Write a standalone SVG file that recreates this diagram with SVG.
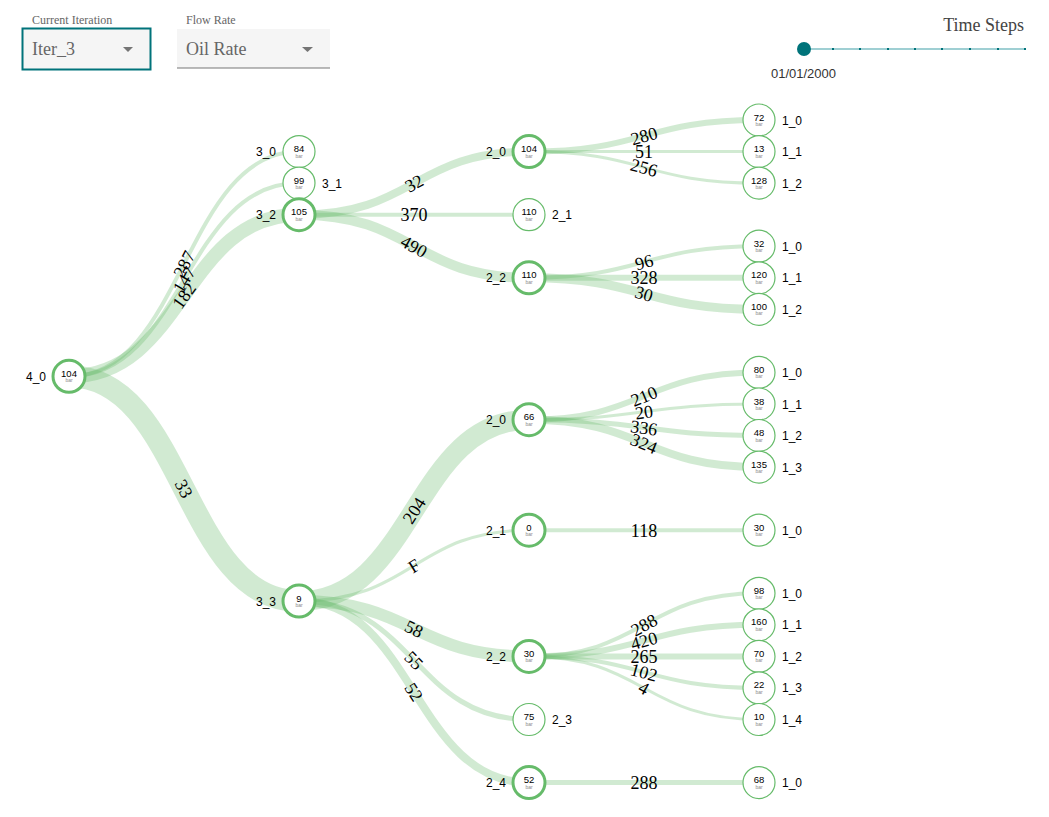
<svg xmlns="http://www.w3.org/2000/svg" width="1049" height="817" viewBox="0 0 1049 817">
<style>
.ctl-lab{font-family:"Liberation Serif",serif;font-size:12px;fill:#666}
.ctl-val{font-family:"Liberation Serif",serif;font-size:18px;fill:#666}
.link{fill:none;stroke:#66bb6a;stroke-opacity:0.3}
.llab{font-family:"Liberation Serif",serif;font-size:18px;fill:#000;text-anchor:middle}
.node circle{fill:#fff;stroke:#66bb6a;stroke-width:1.2}
.node.p circle{stroke-width:3}
.v{font-family:"Liberation Sans",Arial,sans-serif;font-size:9.5px;fill:#000;text-anchor:middle}
.u{font-family:"Liberation Sans",Arial,sans-serif;font-size:5px;fill:#888;text-anchor:middle}
.nl{font-family:"Liberation Sans",Arial,sans-serif;font-size:12px;fill:#000}
.l{text-anchor:end}
.tick{fill:#00737a}
</style>
<rect width="1049" height="817" fill="#fff"/>
<g id="controls">
<text class="ctl-lab" x="32" y="24">Current Iteration</text>
<rect x="22.5" y="28.5" width="128" height="41" fill="#f5f5f5" stroke="#00737a" stroke-width="2"/>
<text class="ctl-val" x="32" y="55">Iter_3</text>
<polygon points="123,47 133,47 128,52" fill="#757575"/>
<text class="ctl-lab" x="186" y="24">Flow Rate</text>
<rect x="177" y="29" width="153" height="39" fill="#f5f5f5"/>
<line x1="177" y1="68" x2="330" y2="68" stroke="#777" stroke-width="1.2"/>
<text class="ctl-val" x="186" y="55">Oil Rate</text>
<polygon points="302,47 313,47 307.5,52" fill="#757575"/>
</g>
<g id="timesteps">
<text x="1024" y="31" font-family="Liberation Serif, serif" font-size="18" fill="#444" text-anchor="end">Time Steps</text>
<line x1="804" y1="49" x2="1025" y2="49" stroke="#9fcfd3" stroke-width="2"/>
<rect class="tick" x="832" y="48" width="2" height="2"/>
<rect class="tick" x="859" y="48" width="2" height="2"/>
<rect class="tick" x="887" y="48" width="2" height="2"/>
<rect class="tick" x="914" y="48" width="2" height="2"/>
<rect class="tick" x="941" y="48" width="2" height="2"/>
<rect class="tick" x="969" y="48" width="2" height="2"/>
<rect class="tick" x="997" y="48" width="2" height="2"/>
<rect class="tick" x="1024" y="48" width="2" height="2"/>
<circle cx="804" cy="49" r="7" fill="#00737a"/>
<text x="803.5" y="78" font-family="Liberation Sans, Arial, sans-serif" font-size="13" fill="#333" text-anchor="middle">01/01/2000</text>
</g>
<g id="links">
<path class="link" stroke-width="4" d="M69,376.3 C184,376.3 184,151.6 299,151.6"/>
<path class="link" stroke-width="4" d="M69,376.3 C184,376.3 184,183.1 299,183.1"/>
<path class="link" stroke-width="14" d="M69,376.3 C184,376.3 184,214.7 299,214.7"/>
<path class="link" stroke-width="22" d="M69,376.3 C184,376.3 184,601.1 299,601.1"/>
<path class="link" stroke-width="8" d="M299,214.7 C414,214.7 414,151.6 529,151.6"/>
<path class="link" stroke-width="4" d="M299,214.7 C414,214.7 414,214.7 529,214.7"/>
<path class="link" stroke-width="10" d="M299,214.7 C414,214.7 414,277.8 529,277.8"/>
<path class="link" stroke-width="6" d="M529,151.6 C644,151.6 644,120 759,120"/>
<path class="link" stroke-width="3" d="M529,151.6 C644,151.6 644,151.6 759,151.6"/>
<path class="link" stroke-width="3" d="M529,151.6 C644,151.6 644,183.1 759,183.1"/>
<path class="link" stroke-width="4" d="M529,277.8 C644,277.8 644,246.2 759,246.2"/>
<path class="link" stroke-width="6" d="M529,277.8 C644,277.8 644,277.8 759,277.8"/>
<path class="link" stroke-width="9" d="M529,277.8 C644,277.8 644,309.3 759,309.3"/>
<path class="link" stroke-width="20" d="M299,601.1 C414,601.1 414,419.7 529,419.7"/>
<path class="link" stroke-width="3" d="M299,601.1 C414,601.1 414,530.2 529,530.2"/>
<path class="link" stroke-width="12" d="M299,601.1 C414,601.1 414,656.4 529,656.4"/>
<path class="link" stroke-width="5" d="M299,601.1 C414,601.1 414,719.5 529,719.5"/>
<path class="link" stroke-width="8" d="M299,601.1 C414,601.1 414,782.6 529,782.6"/>
<path class="link" stroke-width="6" d="M529,419.7 C644,419.7 644,372.4 759,372.4"/>
<path class="link" stroke-width="3" d="M529,419.7 C644,419.7 644,404 759,404"/>
<path class="link" stroke-width="5" d="M529,419.7 C644,419.7 644,435.5 759,435.5"/>
<path class="link" stroke-width="8" d="M529,419.7 C644,419.7 644,467.1 759,467.1"/>
<path class="link" stroke-width="4" d="M529,530.2 C644,530.2 644,530.2 759,530.2"/>
<path class="link" stroke-width="4" d="M529,656.4 C644,656.4 644,593.3 759,593.3"/>
<path class="link" stroke-width="6" d="M529,656.4 C644,656.4 644,624.8 759,624.8"/>
<path class="link" stroke-width="6" d="M529,656.4 C644,656.4 644,656.4 759,656.4"/>
<path class="link" stroke-width="4" d="M529,656.4 C644,656.4 644,687.9 759,687.9"/>
<path class="link" stroke-width="3" d="M529,656.4 C644,656.4 644,719.5 759,719.5"/>
<path class="link" stroke-width="5" d="M529,782.6 C644,782.6 644,782.6 759,782.6"/>
</g>
<g id="link-labels">
<text class="llab" dy="0.35em" transform="translate(184,264) rotate(-62.9)">287</text>
<text class="llab" dy="0.35em" transform="translate(184,279.7) rotate(-59.2)">147</text>
<text class="llab" dy="0.35em" transform="translate(184,295.5) rotate(-54.6)">182</text>
<text class="llab" dy="0.35em" transform="translate(184,488.7) rotate(62.9)">33</text>
<text class="llab" dy="0.35em" transform="translate(414,183.2) rotate(-28.75)">32</text>
<text class="llab" dy="0.35em" transform="translate(414,214.7)">370</text>
<text class="llab" dy="0.35em" transform="translate(414,246.3) rotate(28.75)">490</text>
<text class="llab" dy="0.35em" transform="translate(644,135.8) rotate(-15.4)">280</text>
<text class="llab" dy="0.35em" transform="translate(644,151.6)">51</text>
<text class="llab" dy="0.35em" transform="translate(644,167.4) rotate(15.3)">256</text>
<text class="llab" dy="0.35em" transform="translate(644,262) rotate(-15.4)">96</text>
<text class="llab" dy="0.35em" transform="translate(644,277.8)">328</text>
<text class="llab" dy="0.35em" transform="translate(644,293.6) rotate(15.3)">30</text>
<text class="llab" dy="0.35em" transform="translate(414,510.4) rotate(-57.6)">204</text>
<text class="llab" dy="0.35em" transform="translate(414,565.7) rotate(-31.65)">F</text>
<text class="llab" dy="0.35em" transform="translate(414,628.8) rotate(25.7)">58</text>
<text class="llab" dy="0.35em" transform="translate(414,660.3) rotate(45.8)">55</text>
<text class="llab" dy="0.35em" transform="translate(414,691.9) rotate(57.6)">52</text>
<text class="llab" dy="0.35em" transform="translate(644,396.1) rotate(-22.4)">210</text>
<text class="llab" dy="0.35em" transform="translate(644,411.9) rotate(-7.8)">20</text>
<text class="llab" dy="0.35em" transform="translate(644,427.6) rotate(7.8)">336</text>
<text class="llab" dy="0.35em" transform="translate(644,443.4) rotate(22.4)">324</text>
<text class="llab" dy="0.35em" transform="translate(644,530.2)">118</text>
<text class="llab" dy="0.35em" transform="translate(644,624.9) rotate(-28.75)">288</text>
<text class="llab" dy="0.35em" transform="translate(644,640.6) rotate(-15.4)">420</text>
<text class="llab" dy="0.35em" transform="translate(644,656.4)">265</text>
<text class="llab" dy="0.35em" transform="translate(644,672.2) rotate(15.3)">102</text>
<text class="llab" dy="0.35em" transform="translate(644,688) rotate(28.75)">4</text>
<text class="llab" dy="0.35em" transform="translate(644,782.6)">288</text>
</g>
<g id="n4_0" class="node p" transform="translate(69,376.3)"><circle r="16"/><text class="v" y="0.5">104</text><text class="u" y="6">bar</text><text class="nl l" x="-23" y="4.5">4_0</text></g>
<g id="n3_0" class="node" transform="translate(299,151.6)"><circle r="16"/><text class="v" y="0.5">84</text><text class="u" y="6">bar</text><text class="nl l" x="-23" y="4.5">3_0</text></g>
<g id="n3_1" class="node" transform="translate(299,183.1)"><circle r="16"/><text class="v" y="0.5">99</text><text class="u" y="6">bar</text><text class="nl" x="23" y="4.5">3_1</text></g>
<g id="n3_2" class="node p" transform="translate(299,214.7)"><circle r="16"/><text class="v" y="0.5">105</text><text class="u" y="6">bar</text><text class="nl l" x="-23" y="4.5">3_2</text></g>
<g id="n2_0a" class="node p" transform="translate(529,151.6)"><circle r="16"/><text class="v" y="0.5">104</text><text class="u" y="6">bar</text><text class="nl l" x="-23" y="4.5">2_0</text></g>
<g id="n2_1a" class="node" transform="translate(529,214.7)"><circle r="16"/><text class="v" y="0.5">110</text><text class="u" y="6">bar</text><text class="nl" x="23" y="4.5">2_1</text></g>
<g id="n2_2a" class="node p" transform="translate(529,277.8)"><circle r="16"/><text class="v" y="0.5">110</text><text class="u" y="6">bar</text><text class="nl l" x="-23" y="4.5">2_2</text></g>
<g id="n1_0a" class="node" transform="translate(759,120)"><circle r="16"/><text class="v" y="0.5">72</text><text class="u" y="6">bar</text><text class="nl" x="23" y="4.5">1_0</text></g>
<g id="n1_1a" class="node" transform="translate(759,151.6)"><circle r="16"/><text class="v" y="0.5">13</text><text class="u" y="6">bar</text><text class="nl" x="23" y="4.5">1_1</text></g>
<g id="n1_2a" class="node" transform="translate(759,183.1)"><circle r="16"/><text class="v" y="0.5">128</text><text class="u" y="6">bar</text><text class="nl" x="23" y="4.5">1_2</text></g>
<g id="n1_0b" class="node" transform="translate(759,246.2)"><circle r="16"/><text class="v" y="0.5">32</text><text class="u" y="6">bar</text><text class="nl" x="23" y="4.5">1_0</text></g>
<g id="n1_1b" class="node" transform="translate(759,277.8)"><circle r="16"/><text class="v" y="0.5">120</text><text class="u" y="6">bar</text><text class="nl" x="23" y="4.5">1_1</text></g>
<g id="n1_2b" class="node" transform="translate(759,309.3)"><circle r="16"/><text class="v" y="0.5">100</text><text class="u" y="6">bar</text><text class="nl" x="23" y="4.5">1_2</text></g>
<g id="n3_3" class="node p" transform="translate(299,601.1)"><circle r="16"/><text class="v" y="0.5">9</text><text class="u" y="6">bar</text><text class="nl l" x="-23" y="4.5">3_3</text></g>
<g id="n2_0b" class="node p" transform="translate(529,419.7)"><circle r="16"/><text class="v" y="0.5">66</text><text class="u" y="6">bar</text><text class="nl l" x="-23" y="4.5">2_0</text></g>
<g id="n2_1b" class="node p" transform="translate(529,530.2)"><circle r="16"/><text class="v" y="0.5">0</text><text class="u" y="6">bar</text><text class="nl l" x="-23" y="4.5">2_1</text></g>
<g id="n2_2b" class="node p" transform="translate(529,656.4)"><circle r="16"/><text class="v" y="0.5">30</text><text class="u" y="6">bar</text><text class="nl l" x="-23" y="4.5">2_2</text></g>
<g id="n2_3b" class="node" transform="translate(529,719.5)"><circle r="16"/><text class="v" y="0.5">75</text><text class="u" y="6">bar</text><text class="nl" x="23" y="4.5">2_3</text></g>
<g id="n2_4b" class="node p" transform="translate(529,782.6)"><circle r="16"/><text class="v" y="0.5">52</text><text class="u" y="6">bar</text><text class="nl l" x="-23" y="4.5">2_4</text></g>
<g id="n1_0c" class="node" transform="translate(759,372.4)"><circle r="16"/><text class="v" y="0.5">80</text><text class="u" y="6">bar</text><text class="nl" x="23" y="4.5">1_0</text></g>
<g id="n1_1c" class="node" transform="translate(759,404)"><circle r="16"/><text class="v" y="0.5">38</text><text class="u" y="6">bar</text><text class="nl" x="23" y="4.5">1_1</text></g>
<g id="n1_2c" class="node" transform="translate(759,435.5)"><circle r="16"/><text class="v" y="0.5">48</text><text class="u" y="6">bar</text><text class="nl" x="23" y="4.5">1_2</text></g>
<g id="n1_3c" class="node" transform="translate(759,467.1)"><circle r="16"/><text class="v" y="0.5">135</text><text class="u" y="6">bar</text><text class="nl" x="23" y="4.5">1_3</text></g>
<g id="n1_0d" class="node" transform="translate(759,530.2)"><circle r="16"/><text class="v" y="0.5">30</text><text class="u" y="6">bar</text><text class="nl" x="23" y="4.5">1_0</text></g>
<g id="n1_0e" class="node" transform="translate(759,593.3)"><circle r="16"/><text class="v" y="0.5">98</text><text class="u" y="6">bar</text><text class="nl" x="23" y="4.5">1_0</text></g>
<g id="n1_1e" class="node" transform="translate(759,624.8)"><circle r="16"/><text class="v" y="0.5">160</text><text class="u" y="6">bar</text><text class="nl" x="23" y="4.5">1_1</text></g>
<g id="n1_2e" class="node" transform="translate(759,656.4)"><circle r="16"/><text class="v" y="0.5">70</text><text class="u" y="6">bar</text><text class="nl" x="23" y="4.5">1_2</text></g>
<g id="n1_3e" class="node" transform="translate(759,687.9)"><circle r="16"/><text class="v" y="0.5">22</text><text class="u" y="6">bar</text><text class="nl" x="23" y="4.5">1_3</text></g>
<g id="n1_4e" class="node" transform="translate(759,719.5)"><circle r="16"/><text class="v" y="0.5">10</text><text class="u" y="6">bar</text><text class="nl" x="23" y="4.5">1_4</text></g>
<g id="n1_0f" class="node" transform="translate(759,782.6)"><circle r="16"/><text class="v" y="0.5">68</text><text class="u" y="6">bar</text><text class="nl" x="23" y="4.5">1_0</text></g>
</svg>
